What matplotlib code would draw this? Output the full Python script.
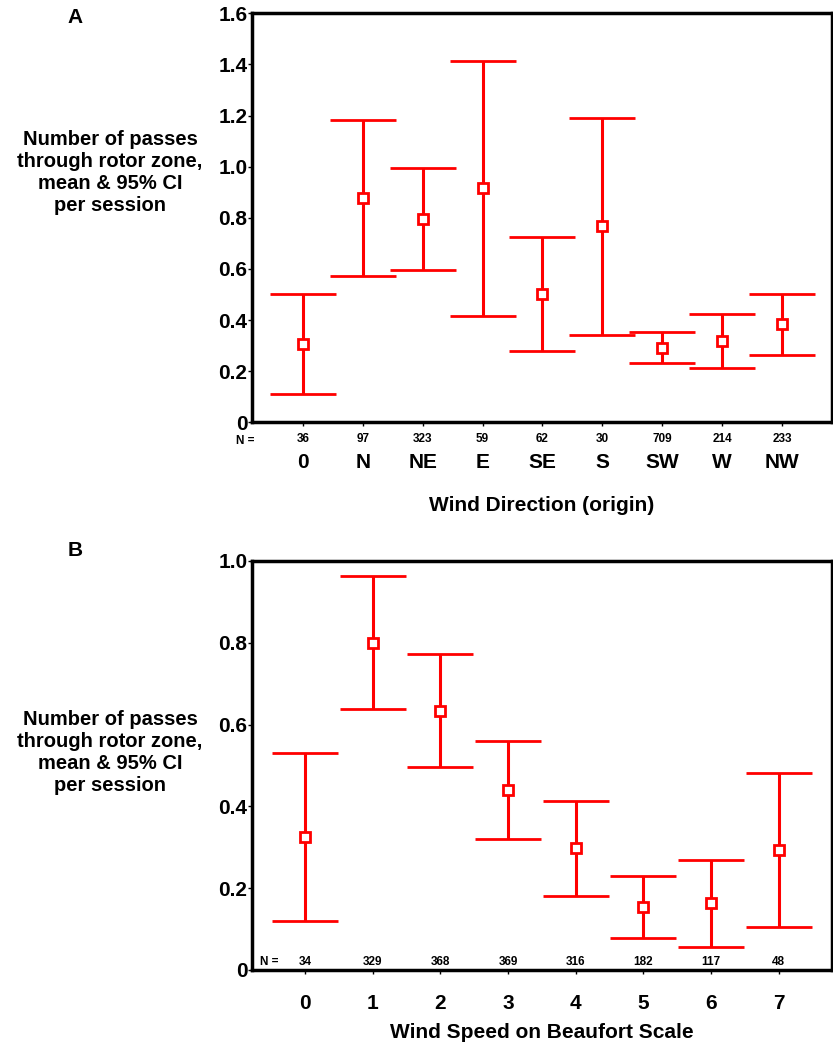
import numpy as np
import matplotlib
matplotlib.use("Agg")
import matplotlib.pyplot as plt
from matplotlib.transforms import blended_transform_factory

plt.rcParams['font.family'] = ['Liberation Sans', 'DejaVu Sans']
plt.rcParams['font.weight'] = 'bold'

# Panel A: wind direction
dir_labels = ["0", "N", "NE", "E", "SE", "S", "SW", "W", "NW"]
dir_n = [36, 97, 323, 59, 62, 30, 709, 214, 233]
dir_mean = [0.306, 0.878, 0.795, 0.915, 0.501, 0.767, 0.291, 0.318, 0.383]
dir_low = [0.110, 0.572, 0.597, 0.416, 0.278, 0.343, 0.233, 0.211, 0.262]
dir_high = [0.502, 1.181, 0.994, 1.415, 0.724, 1.190, 0.352, 0.424, 0.502]
dir_yticks = [0, 0.2, 0.4, 0.6, 0.8, 1.0, 1.2, 1.4, 1.6]
dir_yticklabels = ["0", "0.2", "0.4", "0.6", "0.8", "1.0", "1.2", "1.4", "1.6"]

# Panel B: Beaufort wind speed
bf_labels = ["0", "1", "2", "3", "4", "5", "6", "7"]
bf_n = [34, 329, 368, 369, 316, 182, 117, 48]
bf_mean = [0.324, 0.800, 0.634, 0.439, 0.299, 0.155, 0.163, 0.293]
bf_low = [0.119, 0.638, 0.496, 0.319, 0.182, 0.078, 0.055, 0.104]
bf_high = [0.531, 0.964, 0.773, 0.561, 0.413, 0.229, 0.270, 0.481]
bf_yticks = [0, 0.2, 0.4, 0.6, 0.8, 1.0]
bf_yticklabels = ["0", "0.2", "0.4", "0.6", "0.8", "1.0"]

ylab = "Number of passes\nthrough rotor zone,\nmean & 95% CI\nper session"
red = "#ff0000"


def draw_ci(ax, mean, low, high):
    x = np.arange(len(mean))
    mean = np.array(mean)
    err = [mean - np.array(low), np.array(high) - mean]
    ax.errorbar(x, mean, yerr=err, fmt="s", color=red, ecolor=red,
                elinewidth=2.2, capsize=24, capthick=2.2,
                markersize=7.5, markerfacecolor="white",
                markeredgecolor=red, markeredgewidth=2)


def style_axes(ax):
    for s in ax.spines.values():
        s.set_linewidth(2.5)
    ax.tick_params(axis="y", direction="out", length=3, width=1,
                   labelsize=15, pad=0)


fig = plt.figure(figsize=(8.33, 10.46), dpi=100)

# ---- Panel A
axA = fig.add_axes([0.3022, 0.5963, 0.6962, 0.3910])
draw_ci(axA, dir_mean, dir_low, dir_high)
axA.set_xlim(-0.856, 8.83)
axA.set_ylim(0, 1.6)
axA.set_yticks(dir_yticks)
axA.set_yticklabels(dir_yticklabels)
axA.set_xticks(np.arange(len(dir_labels)))
axA.set_xticklabels([str(n) for n in dir_n], fontsize=8.5)
axA.tick_params(axis="x", direction="out", length=3, width=1, pad=5)
style_axes(axA)
trA = blended_transform_factory(axA.transData, axA.transAxes)
for i, lab in enumerate(dir_labels):
    axA.text(i, -0.099, lab, transform=trA, ha="center", va="center",
             fontsize=15)
axA.text(-0.012, -0.045, "N =", transform=axA.transAxes, ha="center",
         va="center", fontsize=8.5)
axA.text(0.5, -0.203, "Wind Direction (origin)", transform=axA.transAxes,
         ha="center", va="center", fontsize=15)
fig.text(0.132, 0.835, ylab, ha="center", va="center", fontsize=14.5,
         linespacing=1.2)
fig.text(0.090, 0.983, "A", ha="center", va="center", fontsize=15)

# ---- Panel B
axB = fig.add_axes([0.3022, 0.0727, 0.6962, 0.3910])
draw_ci(axB, bf_mean, bf_low, bf_high)
axB.set_xlim(-0.787, 7.78)
axB.set_ylim(0, 1.0)
axB.set_yticks(bf_yticks)
axB.set_yticklabels(bf_yticklabels)
axB.set_xticks(np.arange(len(bf_labels)))
axB.set_xticklabels(bf_labels, fontsize=15)
axB.tick_params(axis="x", direction="out", length=3, width=1, pad=14)
style_axes(axB)
trB = blended_transform_factory(axB.transData, axB.transAxes)
for i, n in enumerate(bf_n):
    axB.text(i, 0.02, str(n), transform=trB, ha="center", va="center",
             fontsize=8.5)
axB.text(0.031, 0.02, "N =", transform=axB.transAxes, ha="center",
         va="center", fontsize=8.5)
axB.text(0.5, -0.152, "Wind Speed on Beaufort Scale", transform=axB.transAxes,
         ha="center", va="center", fontsize=15)
fig.text(0.132, 0.281, ylab, ha="center", va="center", fontsize=14.5,
         linespacing=1.2)
fig.text(0.090, 0.474, "B", ha="center", va="center", fontsize=15)

fig.savefig("out.png", dpi=100)
